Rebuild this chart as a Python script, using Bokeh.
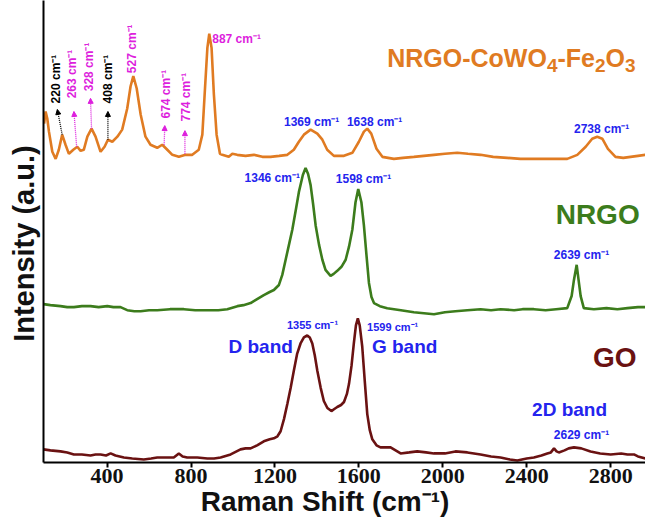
from math import pi
from bokeh.plotting import figure
from bokeh.models import Label, Arrow, NormalHead, Range1d, FixedTicker
from bokeh.embed import file_html
from bokeh.resources import INLINE

# ---------------- data ----------------
comp_shift = [100, 107, 115, 123, 139, 155, 170, 186, 202, 218, 239, 258, 274, 289, 306, 326, 345, 369,
              388, 404, 425, 449, 472, 496, 512, 525, 541, 560, 583, 607, 639, 663, 687, 711, 742, 774,
              806, 837, 854, 865, 878, 887, 898, 909, 922, 938, 949, 980, 997, 1020, 1060, 1100, 1140,
              1179, 1220, 1259, 1290, 1314, 1338, 1370, 1402, 1426, 1449, 1481, 1529, 1569, 1600, 1624,
              1640, 1659, 1684, 1712, 1767, 1810, 1862, 1910, 1958, 2010, 2069, 2120, 2180, 2240, 2307,
              2370, 2434, 2510, 2593, 2641, 2681, 2712, 2736, 2760, 2787, 2823, 2860, 2895, 2930, 2966]
comp_int = [340, 352, 345, 332, 312, 305, 314, 329, 319, 310, 314, 317, 313, 314, 327, 335, 327, 312,
            317, 324, 322, 327, 334, 355, 377, 387, 375, 349, 327, 319, 316, 319, 314, 309, 307, 309,
            309, 314, 329, 369, 415, 429, 415, 369, 329, 310, 309, 307, 310, 309, 308, 309, 307,
            307, 308, 309, 314, 322, 329, 334, 330, 324, 314, 308, 308, 311, 322, 332,
            335, 330, 315, 307, 305, 306, 307, 308, 309, 310, 311, 310, 309, 307, 306,
            305, 305, 305, 305, 309, 317, 325, 327, 325, 315, 307, 306, 307, 308, 309]

nrgo_shift = [97, 130, 178, 210, 242, 280, 321, 360, 401, 430, 464, 496, 530, 560, 600, 639, 700, 766,
              820, 878, 930, 973, 1021, 1050, 1084, 1115, 1147, 1175, 1195, 1219, 1235, 1251, 1267,
              1283, 1300, 1314, 1333, 1346, 1358, 1370, 1382, 1394, 1410, 1426, 1441, 1465, 1480, 1497,
              1517, 1537, 1553, 1569, 1584, 1597, 1612, 1624, 1636, 1648, 1660, 1672, 1700, 1735, 1800,
              1862, 1910, 1958, 2010, 2060, 2117, 2180, 2230, 2275, 2340, 2380, 2434, 2490, 2540, 2593,
              2614, 2625, 2638, 2647, 2657, 2672, 2720, 2780, 2832, 2880, 2930, 2966]
nrgo_int = [161, 160, 159, 158, 158, 159, 159, 158, 159, 158, 158, 155, 154, 154, 155, 155, 156, 156,
            155, 155, 155, 156, 159, 160, 162, 166, 170, 173, 175, 180, 190, 205, 220,
            235, 255, 272, 289, 296, 290, 279, 260, 239, 220, 205, 195, 189, 191, 194,
            198, 205, 218, 235, 262, 275, 262, 239, 210, 182, 168, 162, 159, 157, 155,
            153, 152, 151, 153, 154, 155, 156, 155, 156, 155, 156, 156, 155, 156, 157,
            169, 185, 200, 185, 169, 157, 156, 157, 156, 157, 158, 158]

go_shift = [97, 130, 178, 210, 242, 280, 321, 345, 369, 395, 417, 440, 480, 520, 575, 610, 639, 680,
            718, 742, 760, 782, 830, 878, 910, 941, 989, 1036, 1060, 1084, 1115, 1147, 1175, 1195,
            1212, 1227, 1243, 1259, 1275, 1290, 1306, 1322, 1338, 1354, 1366, 1378, 1390, 1402, 1418,
            1433, 1450, 1469, 1483, 1497, 1515, 1529, 1543, 1553, 1565, 1576, 1586, 1595, 1604, 1616,
            1628, 1640, 1652, 1664, 1684, 1703, 1727, 1751, 1775, 1799, 1840, 1878, 1920, 1958, 2010,
            2060, 2117, 2180, 2230, 2275, 2320, 2355, 2400, 2434, 2470, 2498, 2515, 2530, 2542, 2553,
            2580, 2600, 2625, 2660, 2704, 2750, 2800, 2850, 2880, 2911, 2930, 2966]
go_int = [17, 16, 15, 14, 12, 12, 11, 12, 12, 11, 13, 11, 9, 8, 7, 8, 9, 9,
          9, 13, 10, 9, 9, 8, 8, 9, 12, 17, 18, 18, 21, 25, 27, 28,
          30, 35, 47, 62, 78, 95, 112, 122, 128, 130, 128, 122, 110, 95, 78,
          65, 58, 55, 57, 59, 61, 64, 72, 82, 100, 122, 140, 147, 140, 119,
          85, 52, 36, 27, 21, 19, 19, 19, 16, 13, 14, 15, 14, 13, 13,
          15, 14, 12, 10, 9, 7, 6, 8, 9, 11, 13, 14, 18, 15, 14,
          16, 18, 19, 18, 15, 13, 12, 13, 12, 12, 10, 8]

x_ticks = [400, 800, 1200, 1600, 2000, 2400, 2800]

SUP = "cm\u207b\u00b9"
NB = "\u00a0"
# rotated peak labels of the composite: (shift, base intensity, text, colour)
rot_labels = [(155, 360, "220 " + SUP, "black"),
              (234, 365, "263 " + SUP, "magenta"),
              (312, 372, "328 " + SUP, "magenta"),
              (404, 360, "408 " + SUP, "black"),
              (520, 390, "527 " + SUP, "magenta"),
              (679, 345, "674 " + SUP, "magenta"),
              (774, 342, "774 " + SUP, "magenta")]
# arrows: (x0, y0, x1, y1, colour)
arrows = [(186, 329, 163, 354, "black"),
          (255, 317, 242, 352, "magenta"),
          (326, 335, 321, 365, "magenta"),
          (404, 324, 404, 352, "black"),
          (672, 319, 675, 338, "magenta"),
          (771, 310, 771, 333, "magenta")]

ORANGE = "#E07B22"
GREEN = "#3C7C1C"
MAROON = "#6A1212"
BLUE = "#2424EE"
MAG = "#DD1FDD"
FONT = "Liberation Sans"

p = figure(width=645, height=519, output_backend="svg", toolbar_location=None,
           x_range=Range1d(97, 2966), y_range=Range1d(4, 462),
           min_border_left=43, min_border_right=0, min_border_top=0, min_border_bottom=57)
p.outline_line_color = None
p.grid.visible = False
p.background_fill_color = "white"

p.xaxis.ticker = FixedTicker(ticks=x_ticks)
p.xaxis.axis_line_width = 2
p.xaxis.axis_line_color = "black"
p.xaxis.major_tick_line_width = 2
p.xaxis.major_tick_out = 5
p.xaxis.major_tick_in = 0
p.xaxis.minor_tick_line_color = None
p.xaxis.major_label_text_font = "Liberation Sans Narrow"
p.xaxis.major_label_text_font_style = "bold"
p.xaxis.major_label_text_font_size = "22px"
p.xaxis.major_label_text_color = "#111111"
p.xaxis.major_label_standoff = 1
p.xaxis.axis_label = "Raman Shift (" + SUP + ")" + NB * 5
p.xaxis.axis_label_text_font = FONT
p.xaxis.axis_label_text_font_style = "bold"
p.xaxis.axis_label_text_font_size = "28px"
p.xaxis.axis_label_text_color = "#111111"
p.xaxis.axis_label_standoff = 0

p.yaxis.ticker = FixedTicker(ticks=[])
p.yaxis.axis_line_width = 2
p.yaxis.axis_line_color = "black"
p.yaxis.major_label_text_font_size = "0px"
p.yaxis.major_label_standoff = 0
p.yaxis.minor_tick_line_color = None
p.yaxis.major_tick_line_color = None
p.yaxis.major_tick_out = 0
p.yaxis.axis_label = "Intensity (a.u.)" + NB * 3
p.yaxis.axis_label_text_font = FONT
p.yaxis.axis_label_text_font_style = "bold"
p.yaxis.axis_label_text_font_size = "29px"
p.yaxis.axis_label_text_color = "#111111"
p.yaxis.axis_label_standoff = 4

p.line(go_shift, go_int, line_color=MAROON, line_width=2.6)
p.line(nrgo_shift, nrgo_int, line_color=GREEN, line_width=2.6)
p.line(comp_shift, comp_int, line_color=ORANGE, line_width=2.6)


def col(c):
    return {"black": "black", "magenta": MAG}[c]


for x, y, t, c in rot_labels:
    p.add_layout(Label(x=x, y=y, text=t, angle=pi / 2, text_align="left", text_baseline="middle",
                       text_font=FONT, text_font_style="bold", text_font_size="12px", text_color=col(c)))
for x0, y0, x1, y1, c in arrows:
    p.add_layout(Arrow(x_start=x0, y_start=y0, x_end=x1, y_end=y1, line_color=col(c), line_width=1.3,
                       line_dash="1 1",
                       end=NormalHead(size=5, fill_color=col(c), line_color=col(c), line_width=1)))


def lab(x, y, t, color, size, align="center", baseline="middle", dx=0, dy=0, angle=0):
    p.add_layout(Label(x=x, y=y, text=t, text_align=align, text_baseline=baseline, text_font=FONT,
                       text_font_style="bold", text_font_size=size, text_color=color,
                       x_offset=dx, y_offset=dy, angle=angle))


lab(901, 424, "887 " + SUP, MAG, "12px", align="left")
lab(1375, 342, "1369 " + SUP, BLUE, "12px")
lab(1675, 342, "1638 " + SUP, BLUE, "12px")
lab(2757, 335, "2738 " + SUP, BLUE, "12px")

# composite name with real-size subscripts (Arial-metric advance widths)
MAIN, SUB = 25, 19
parts = [("NRGO-CoWO", False), ("4", True), ("-Fe", False), ("2", True), ("O", False), ("3", True)]
adv = {"N": .722, "R": .722, "G": .778, "O": .778, "-": .333, "C": .722, "o": .611, "W": .944,
       "F": .611, "e": .556, "4": .556, "2": .556, "3": .556}
off = 0.0
for t, sub in parts:
    fs = SUB if sub else MAIN
    lab(1735, 405, t, ORANGE, f"{fs}px", align="left", baseline="alphabetic",
        dx=off, dy=(-8 if sub else 0))
    off += sum(adv[ch] for ch in t) * fs

lab(2738, 250, "NRGO", GREEN, "28px", baseline="alphabetic")
lab(1187, 286, "1346 " + SUP, BLUE, "12px")
lab(1622, 285, "1598 " + SUP, BLUE, "12px")
lab(2661, 210, "2639 " + SUP, BLUE, "12px")
lab(1379, 140, "1355 " + SUP, BLUE, "11px")
lab(1761, 138, "1599 " + SUP, BLUE, "11px")
lab(1132, 119, "D band", BLUE, "19px")
lab(1818, 119, "G band", BLUE, "19px")
lab(2819, 108, "GO", MAROON, "28px")
lab(2604, 57, "2D band", BLUE, "19px")
lab(2661, 31, "2629 " + SUP, BLUE, "12px")

open("out.html", "w").write(file_html(p, INLINE))
